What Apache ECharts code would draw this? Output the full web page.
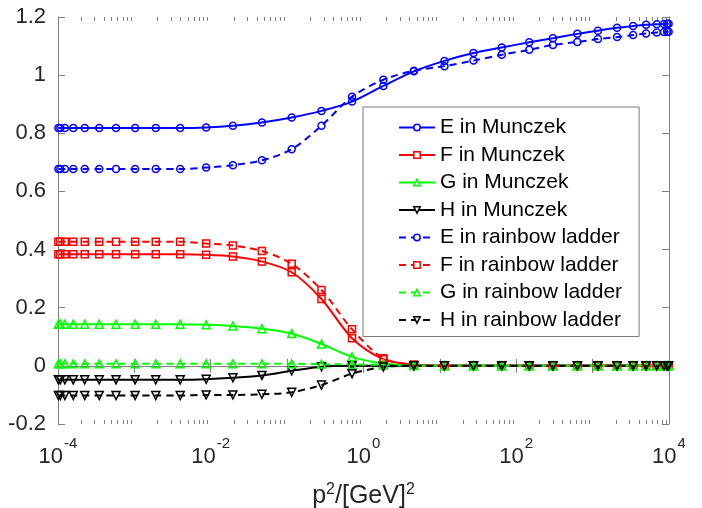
<!DOCTYPE html>
<html><head><meta charset="utf-8">
<script src="https://cdn.jsdelivr.net/npm/echarts@6/dist/echarts.min.js"></script>
<style>html,body{margin:0;padding:0;background:#fff}#c{width:702px;height:508px}</style>
</head><body><div id="c"></div>
<script>
// momentum grid p^2 [GeV^2]
const p2 = [1.012e-4, 1.072e-4, 1.230e-4, 1.585e-4, 2.239e-4, 3.467e-4, 5.754e-4, 1.023e-3,
  1.905e-3, 3.981e-3, 8.710e-3, 1.950e-2, 4.677e-2, 0.1148, 0.2818, 0.7079,
  1.820, 4.571, 11.48, 27.54, 64.57, 147.9, 302.0, 631.0,
  1175, 2089, 3388, 5012, 6918, 8610, 9441, 9886];

const E_munczek = [0.818, 0.818, 0.818, 0.818, 0.818, 0.818, 0.818, 0.818, 0.818, 0.818,
  0.820, 0.826, 0.837, 0.854, 0.877, 0.909, 0.963, 1.013, 1.049, 1.076, 1.095, 1.113,
  1.127, 1.142, 1.153, 1.163, 1.169, 1.173, 1.175, 1.176, 1.177, 1.177];
const F_munczek = [0.384, 0.384, 0.384, 0.384, 0.384, 0.384, 0.384, 0.384, 0.384, 0.384,
  0.382, 0.376, 0.359, 0.322, 0.230, 0.095, 0.023, 0.004, 0, 0, 0, 0,
  0, 0, 0, 0, 0, 0, 0, 0, 0, 0];
const G_munczek = [0.143, 0.143, 0.143, 0.143, 0.143, 0.143, 0.143, 0.143, 0.143, 0.143,
  0.141, 0.137, 0.128, 0.111, 0.075, 0.031, 0.008, 0.002, 0, 0, 0, 0,
  0, 0, 0, 0, 0, 0, 0, 0, 0, 0];
const H_munczek = [-0.048, -0.048, -0.048, -0.048, -0.048, -0.048, -0.048, -0.048, -0.048, -0.048,
  -0.046, -0.041, -0.033, -0.017, -0.003, 0.000, 0, 0, 0, 0, 0, 0,
  0, 0, 0, 0, 0, 0, 0, 0, 0, 0];
const E_rainbow = [0.677, 0.677, 0.677, 0.677, 0.677, 0.677, 0.677, 0.677, 0.677, 0.677,
  0.682, 0.690, 0.707, 0.745, 0.826, 0.926, 0.984, 1.015, 1.031, 1.050, 1.070, 1.087,
  1.104, 1.114, 1.124, 1.131, 1.138, 1.143, 1.147, 1.148, 1.149, 1.149];
const F_rainbow = [0.427, 0.427, 0.427, 0.427, 0.427, 0.427, 0.427, 0.427, 0.427, 0.427,
  0.421, 0.414, 0.395, 0.351, 0.261, 0.126, 0.026, 0.004, 0, 0, 0, 0,
  0, 0, 0, 0, 0, 0, 0, 0, 0, 0];
const G_rainbow = [0.007, 0.007, 0.007, 0.007, 0.007, 0.007, 0.007, 0.007, 0.007, 0.007,
  0.007, 0.007, 0.007, 0.007, 0.006, 0.005, 0.003, 0.001, 0, 0, 0, 0,
  0, 0, 0, 0, 0, 0, 0, 0, 0, 0];
const H_rainbow = [-0.102, -0.102, -0.102, -0.102, -0.102, -0.102, -0.102, -0.102, -0.102, -0.102,
  -0.100, -0.100, -0.098, -0.091, -0.066, -0.027, -0.004, 0, 0, 0, 0, 0,
  0, 0, 0, 0, 0, 0, 0, 0, 0, 0];

const seriesNames = ['E in Munczek', 'F in Munczek', 'G in Munczek', 'H in Munczek',
  'E in rainbow ladder', 'F in rainbow ladder', 'G in rainbow ladder', 'H in rainbow ladder'];
const yTicks = {min: -0.2, max: 1.2, step: 0.2};
const xRange = {min: 1e-4, max: 1e4};
const minorMult = [2, 3, 4, 5, 6, 7, 8, 9];

const FONT = "'Liberation Sans', Arial, Helvetica, sans-serif";
const AXC = '#808080';
const TXC = '#262626';
const COLORS = ['#0000ff', '#ff0000', '#00ff00', '#000000'];

function pairs(vals) { return p2.map((x, i) => [x, vals[i]]); }

function mk(name, vals, color, symbol, rotate, dashed, size) {
  return {
    name, type: 'line', data: pairs(vals), xAxisIndex: 0, yAxisIndex: 0,
    smooth: 0.3, symbol, symbolSize: size, symbolRotate: rotate,
    showAllSymbol: true,
    lineStyle: {color, width: 2, type: dashed ? [7, 5] : 'solid'},
    itemStyle: {color: 'rgba(255,255,255,0)', borderColor: color, borderWidth: 1.5},
    emphasis: {disabled: true}
  };
}

// minor tick positions of the log axis (2..9 x 10^n)
const minorTicks = [];
for (let e = -4; e < 4; e++) for (const m of minorMult) minorTicks.push(m * Math.pow(10, e));

const series = [
  mk(seriesNames[0], E_munczek, COLORS[0], 'circle', 0, false, 7),
  mk(seriesNames[1], F_munczek, COLORS[1], 'rect', 0, false, 7),
  mk(seriesNames[2], G_munczek, COLORS[2], 'triangle', 0, false, 8),
  mk(seriesNames[3], H_munczek, COLORS[3], 'triangle', 180, false, 8),
  mk(seriesNames[4], E_rainbow, COLORS[0], 'circle', 0, true, 7),
  mk(seriesNames[5], F_rainbow, COLORS[1], 'rect', 0, true, 7),
  mk(seriesNames[6], G_rainbow, COLORS[2], 'triangle', 0, true, 8),
  mk(seriesNames[7], H_rainbow, COLORS[3], 'triangle', 180, true, 8),
  {
    type: 'custom', name: 'minorTicks', xAxisIndex: 0, yAxisIndex: 0, silent: true, clip: false,
    data: minorTicks.map(v => [v, 0]),
    renderItem: function (params, api) {
      const cs = params.coordSys;
      const x = Math.round(api.coord([api.value(0), 0])[0]) + 0.5;
      const len = 4;
      return {type: 'group', children: [
        {type: 'line', shape: {x1: x, y1: cs.y + cs.height, x2: x, y2: cs.y + cs.height - len}, style: {stroke: AXC, lineWidth: 1}},
        {type: 'line', shape: {x1: x, y1: cs.y, x2: x, y2: cs.y + len}, style: {stroke: AXC, lineWidth: 1}}
      ]};
    },
    z: 3
  }
];

function xLabel(v) {
  const e = Math.round(Math.log10(v));
  if (e % 2 !== 0) return '';
  return '{b|10}{s|' + e + '}';
}

const xCommon = {
  type: 'log', logBase: 10, min: xRange.min, max: xRange.max, interval: 1,
  axisLine: {show: true, lineStyle: {color: AXC, width: 1}},
  axisTick: {show: true, inside: true, length: 7, lineStyle: {color: AXC}},
  splitLine: {show: false}, minorTick: {show: false}
};
const yCommon = {
  type: 'value', min: yTicks.min, max: yTicks.max, interval: yTicks.step,
  axisLine: {show: true, lineStyle: {color: AXC, width: 1}},
  axisTick: {show: true, inside: true, length: 7, lineStyle: {color: AXC}},
  splitLine: {show: false}
};

const legendData = seriesNames.map((n, i) => ({
  name: n,
  itemStyle: {color: '#ffffff', borderColor: COLORS[i % 4], borderWidth: 1.5}
}));

const option = {
  animation: false,
  backgroundColor: '#fff',
  grid: {left: 58, right: 33, top: 17, bottom: 84, containLabel: false, outerBoundsMode: 'none'},
  xAxis: [
    Object.assign({}, xCommon, {
      position: 'bottom',
      name: 'p{s|2}/[GeV]{s|2}', nameLocation: 'middle', nameGap: 58,
      nameTextStyle: {fontFamily: FONT, fontSize: 25, color: TXC,
        rich: {s: {fontFamily: FONT, fontSize: 16, color: TXC, verticalAlign: 'bottom', padding: [0, 0, 12, 0]}}},
      axisLabel: {margin: 12, formatter: xLabel, fontFamily: FONT, color: TXC,
        rich: {b: {fontFamily: FONT, fontSize: 22, color: TXC, padding: [10, 0, 0, 0]},
               s: {fontFamily: FONT, fontSize: 15, color: TXC, verticalAlign: 'top', padding: [0, 0, 0, 1]}}}
    }),
    Object.assign({}, xCommon, {position: 'top', axisLabel: {show: false}})
  ],
  yAxis: [
    Object.assign({}, yCommon, {position: 'left',
      axisLabel: {margin: 12, fontFamily: FONT, fontSize: 22, color: TXC}}),
    Object.assign({}, yCommon, {position: 'right', axisLabel: {show: false}})
  ],
  legend: {
    data: legendData, orient: 'vertical', left: 363, top: 107,
    backgroundColor: '#fff', borderColor: '#7a7a7a', borderWidth: 1, borderRadius: 0,
    padding: [10, 17, 6, 35], itemWidth: 36, itemHeight: 8, itemGap: 6.5,
    textStyle: {fontFamily: FONT, fontSize: 21, color: '#000', lineHeight: 21},
    selectedMode: false
  },
  series
};

const chart = echarts.init(document.getElementById('c'), null, {renderer: 'canvas'});
chart.setOption(option);
</script>
</body></html>
